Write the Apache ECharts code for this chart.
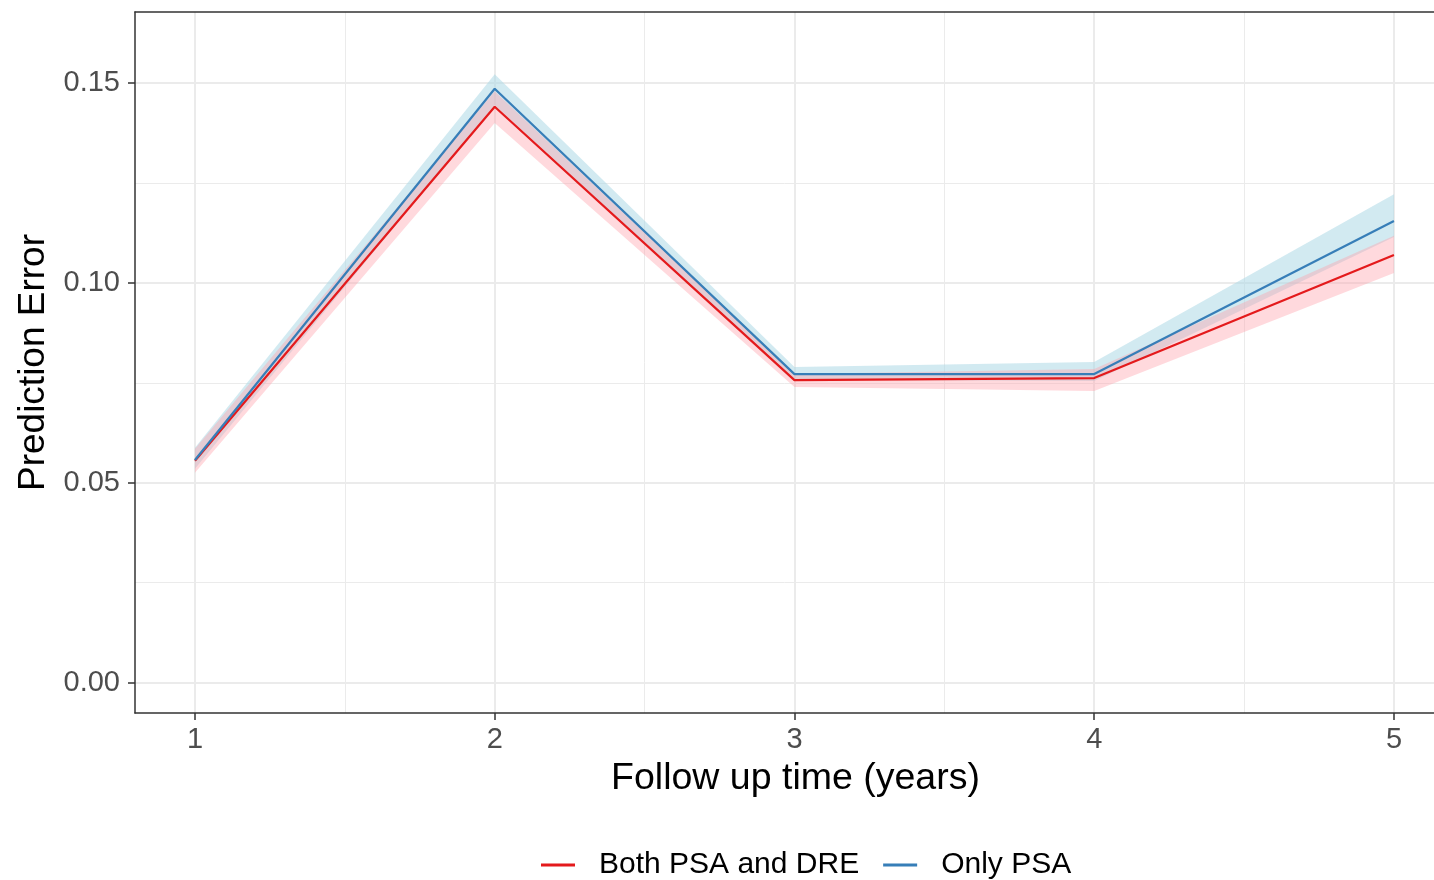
<!DOCTYPE html>
<html>
<head>
<meta charset="utf-8">
<script src="https://cdn.jsdelivr.net/npm/echarts@6/dist/echarts.min.js"></script>
<style>
html,body{margin:0;padding:0;background:#fff;}
#chart{width:1434px;height:880px;}
</style>
</head>
<body>
<div id="chart"></div>
<script>
// ---- data ----
var years = [1, 2, 3, 4, 5];
var xTicks = [1, 2, 3, 4, 5];
var xMinorTicks = [1.5, 2.5, 3.5, 4.5];
var yTicks = [0, 0.05, 0.10, 0.15];
var yMinorTicks = [0.025, 0.075, 0.125];

var bothPsaDre = [0.0555, 0.1441, 0.0757, 0.0762, 0.1070];
var bothLower  = [0.0525, 0.1400, 0.0740, 0.0730, 0.1025];
var bothUpper  = [0.0585, 0.1480, 0.0772, 0.0785, 0.1118];

var onlyPsa    = [0.0557, 0.1486, 0.0772, 0.0772, 0.1155];
var onlyLower  = [0.0535, 0.1445, 0.0758, 0.0755, 0.1115];
var onlyUpper  = [0.0588, 0.1522, 0.0790, 0.0802, 0.1222];

var FONT = "'Liberation Sans', Arial, Helvetica, sans-serif";
var X_MIN = 0.8, X_MAX = 5.1336, Y_MIN = -0.0076, Y_MAX = 0.1678;

function pairs(xs, ys) { return xs.map(function (x, i) { return [x, ys[i]]; }); }

function ribbon(name, lower, upper, fill) {
  return {
    type: 'custom',
    name: name + ' band',
    xAxisIndex: 0, yAxisIndex: 0,
    silent: true,
    z: 2,
    data: years.map(function (x, i) { return [x, lower[i], upper[i]]; }),
    encode: { x: 0, y: [1, 2] },
    renderItem: function (params, api) {
      if (params.dataIndex !== 0) return null;
      var pts = [];
      for (var i = 0; i < years.length; i++) pts.push(api.coord([years[i], upper[i]]));
      for (var j = years.length - 1; j >= 0; j--) pts.push(api.coord([years[j], lower[j]]));
      return { type: 'polygon', shape: { points: pts }, style: { fill: fill } };
    }
  };
}

var chart = echarts.init(document.getElementById('chart'), null, { renderer: 'canvas' });
chart.setOption({
  animation: false,
  backgroundColor: '#ffffff',
  textStyle: { fontFamily: FONT },
  grid: { left: 135, right: 0, top: 12, bottom: 167, show: false },
  legend: {
    left: 536, top: 845,
    icon: 'rect', itemWidth: 34, itemHeight: 3, itemGap: 24,
    textStyle: { fontSize: 30, color: '#000000', fontFamily: FONT, padding: [0, 0, 0, 19] },
    data: ['Both PSA and DRE', 'Only PSA']
  },
  xAxis: [{
    type: 'value', min: X_MIN, max: X_MAX, position: 'bottom',
    name: 'Follow up time (years)', nameLocation: 'middle', nameGap: 47,
    nameTextStyle: { fontSize: 37.5, color: '#000000', fontFamily: FONT, padding: [0, 0, 0, 22] },
    axisLine: { show: true, onZero: false, lineStyle: { color: '#333333', width: 1.5 } },
    axisTick: { show: true, customValues: xTicks, length: 7, lineStyle: { color: '#333333', width: 1.5 } },
    axisLabel: { customValues: xTicks, fontSize: 29, color: '#4d4d4d', margin: 12, fontFamily: FONT },
    splitLine: { show: true, lineStyle: { color: '#ebebeb', width: 2 } }
  }, {
    type: 'value', min: X_MIN, max: X_MAX, position: 'top',
    axisLine: { show: true, onZero: false, lineStyle: { color: '#333333', width: 1.5 } },
    axisTick: { show: false, customValues: xMinorTicks },
    axisLabel: { show: false, customValues: xMinorTicks },
    splitLine: { show: true, lineStyle: { color: '#ebebeb', width: 1 } }
  }],
  yAxis: [{
    type: 'value', min: Y_MIN, max: Y_MAX, position: 'left',
    name: 'Prediction Error', nameLocation: 'middle', nameGap: 80,
    nameTextStyle: { fontSize: 37, color: '#000000', fontFamily: FONT },
    axisLine: { show: true, onZero: false, lineStyle: { color: '#333333', width: 1.5 } },
    axisTick: { show: true, customValues: yTicks, length: 7, lineStyle: { color: '#333333', width: 1.5 } },
    axisLabel: {
      customValues: yTicks, fontSize: 29, color: '#4d4d4d', margin: 15, fontFamily: FONT,
      formatter: function (v) { return v.toFixed(2); }
    },
    splitLine: { show: true, lineStyle: { color: '#ebebeb', width: 2 } }
  }, {
    type: 'value', min: Y_MIN, max: Y_MAX, position: 'right',
    axisLine: { show: false },
    axisTick: { show: false, customValues: yMinorTicks },
    axisLabel: { show: false, customValues: yMinorTicks },
    splitLine: { show: true, lineStyle: { color: '#ebebeb', width: 1 } }
  }],
  series: [
    ribbon('Only PSA', onlyLower, onlyUpper, 'rgba(173,216,230,0.55)'),
    ribbon('Both PSA and DRE', bothLower, bothUpper, 'rgba(255,160,170,0.4)'),
    {
      type: 'line', name: 'Both PSA and DRE', xAxisIndex: 0, yAxisIndex: 0,
      data: pairs(years, bothPsaDre), showSymbol: false, symbol: 'none', z: 5,
      color: '#e41a1c', lineStyle: { color: '#e41a1c', width: 2.2 }
    },
    {
      type: 'line', name: 'Only PSA', xAxisIndex: 0, yAxisIndex: 0,
      data: pairs(years, onlyPsa), showSymbol: false, symbol: 'none', z: 6,
      color: '#377eb8', lineStyle: { color: '#377eb8', width: 2.2 }
    }
  ]
});
</script>
</body>
</html>
